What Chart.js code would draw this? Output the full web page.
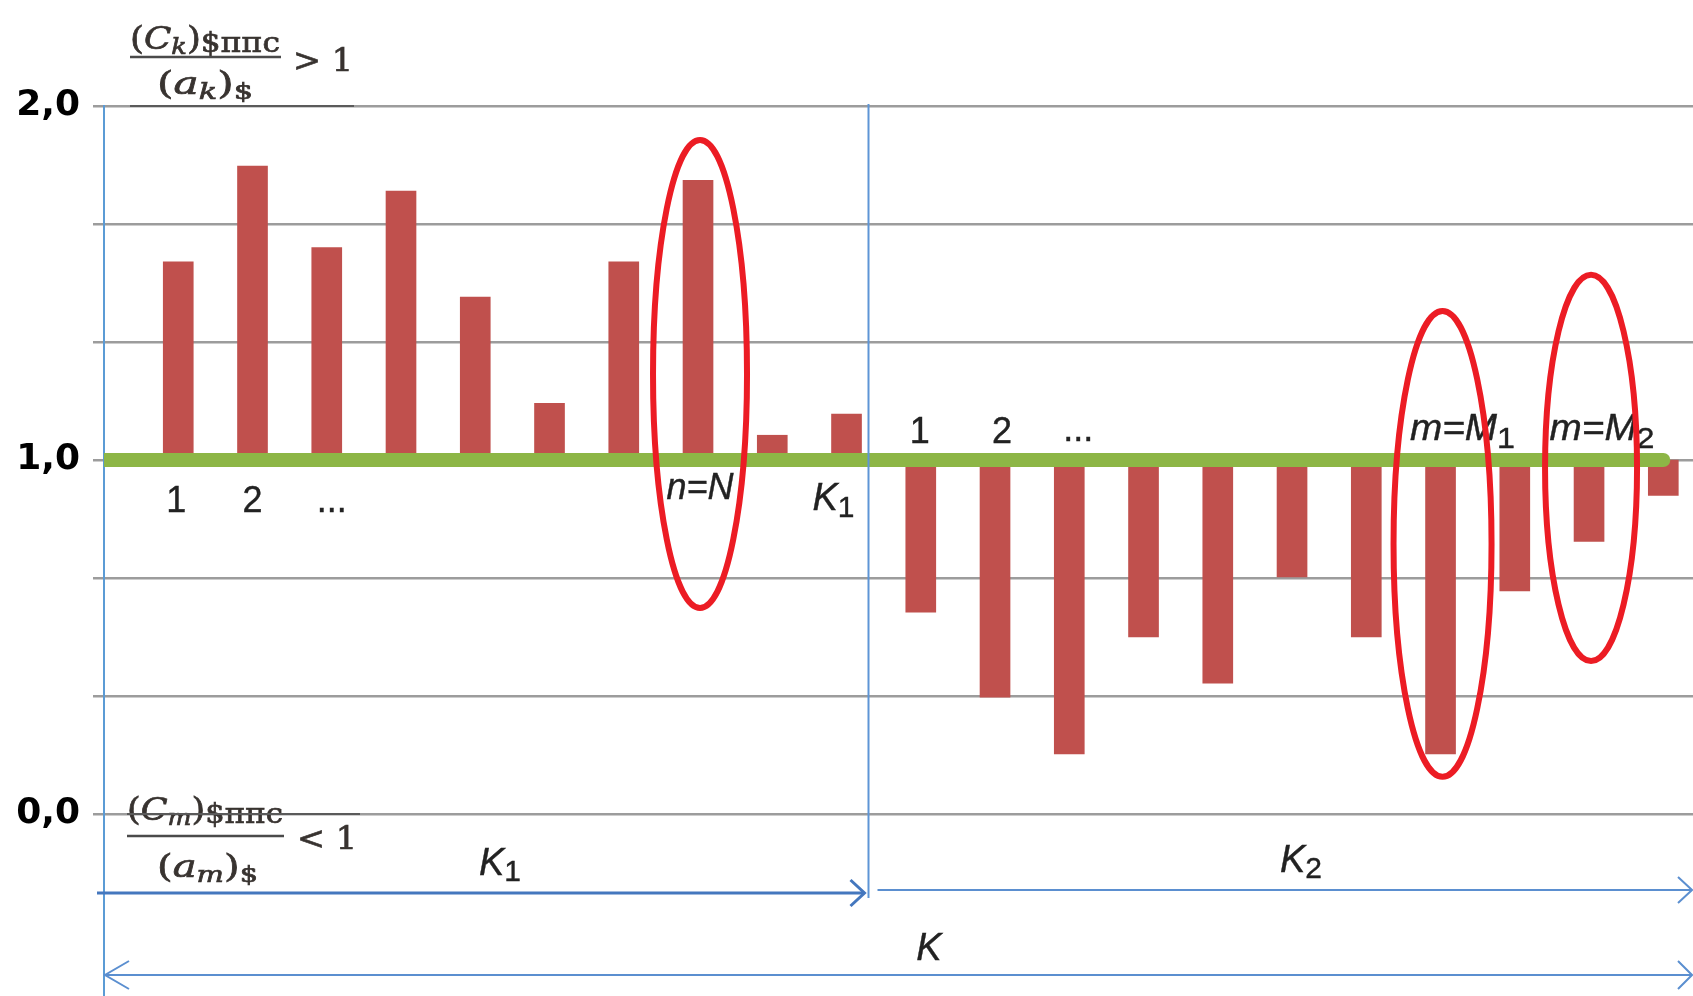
<!DOCTYPE html>
<html><head><meta charset="utf-8">
<script src="https://cdn.jsdelivr.net/npm/chart.js@4.4.1/dist/chart.umd.min.js"></script>
<style>html,body{margin:0;padding:0;background:#fff;overflow:hidden}canvas{display:block}</style>
</head><body>
<canvas id="c" width="1693" height="996" style="width:1693px;height:996px"></canvas>
<script>
// ---- data ----
const barIndex = [1,2,3,4,5,6,7,8,9,10,11,12,13,14,15,16,17,18,19,20,21];
const ratioValues = [1.56,1.83,1.60,1.76,1.46,1.16,1.56,1.79,1.07,1.13,
                     0.57,0.33,0.17,0.50,0.37,0.67,0.50,0.17,0.63,0.77,0.90];
const baseline = 1.0;
const baselineSpan = [0, 21];
const yGridValues = [0, 1/3, 2/3, 1, 4/3, 5/3, 2];
const yTickLabels = ['0,0', '', '', '1,0', '', '', '2,0'];
const highlightBars = [8, 18, 20];
const highlightLabels = ['n=N', 'm=M', 'm=M'];
const highlightSubs = ['', '1', '2'];
const groupSplit = 10.29;

// ---- helpers ----
const SANS = '"Liberation Sans", Arial, sans-serif';
const SERIF = '"DejaVu Serif", "Liberation Serif", serif';

function drawRuns(ctx, parts, x, baseY, opt) {
  opt = opt || {};
  const widths = parts.map(p => { ctx.font = p.font; return ctx.measureText(p.t).width; });
  const total = widths.reduce((a, b) => a + b, 0);
  const target = opt.width || total;
  const sx = target / total;
  let left = x;
  if (opt.align === 'center') left = x - target / 2;
  else if (opt.align === 'right') left = x - target;
  ctx.save();
  ctx.translate(left, baseY);
  ctx.scale(sx, 1);
  ctx.textAlign = 'left';
  ctx.textBaseline = 'alphabetic';
  let cx = 0;
  parts.forEach((p, i) => {
    ctx.font = p.font;
    ctx.fillText(p.t, cx, p.dy || 0);
    if (opt.stroke) { ctx.lineWidth = opt.stroke; ctx.strokeText(p.t, cx, p.dy || 0); }
    cx += widths[i];
  });
  ctx.restore();
}

function arrowHead(ctx, tipX, y, dir, len, spread) {
  ctx.beginPath();
  ctx.moveTo(tipX - dir * len, y - spread);
  ctx.lineTo(tipX, y);
  ctx.lineTo(tipX - dir * len, y + spread);
  ctx.stroke();
}

const annot = {
  id: 'annot',
  afterDatasetsDraw(chart) {
    const { ctx, scales: { x, y } } = chart;
    const px = v => x.getPixelForValue(v);
    const py = v => y.getPixelForValue(v);
    ctx.save();

    // group separator
    const sepX = Math.round(px(groupSplit)) + 0.5;
    ctx.strokeStyle = '#5E95D6';
    ctx.lineWidth = 2;
    ctx.beginPath(); ctx.moveTo(sepX, py(2) - 2); ctx.lineTo(sepX, 898); ctx.stroke();

    // fraction decorations
    const mathCol = '#383330';
    ctx.fillStyle = mathCol;
    ctx.strokeStyle = mathCol;
    const big = '32px ' + SERIF, bigIt = 'italic 32px ' + SERIF, sub = '23px ' + SERIF, subIt = 'italic 23px ' + SERIF, mid = '28px ' + SERIF;
    const ms = { stroke: 0.7 };
    // top fraction
    drawRuns(ctx, [{t:'(',font:big},{t:'C',font:bigIt},{t:'k',font:subIt,dy:5},{t:')',font:big},{t:'$ппс',font:mid,dy:3}], 130, 49, {width:150, stroke:0.7});
    drawRuns(ctx, [{t:'(',font:big},{t:'a',font:bigIt},{t:'k',font:subIt,dy:5},{t:')',font:big},{t:'$',font:sub,dy:5}], 157, 94, {width:96, stroke:0.7});
    drawRuns(ctx, [{t:'> 1',font:big}], 293, 71, {width:60, stroke:0.7});
    ctx.strokeStyle = '#4a4a4a'; ctx.lineWidth = 2.5;
    ctx.beginPath(); ctx.moveTo(130, 57); ctx.lineTo(281, 57); ctx.stroke();
    ctx.strokeStyle = '#5a5a5a'; ctx.lineWidth = 2;
    ctx.beginPath(); ctx.moveTo(130, py(2)); ctx.lineTo(354, py(2)); ctx.stroke();
    // bottom fraction
    ctx.strokeStyle = mathCol;
    drawRuns(ctx, [{t:'(',font:big},{t:'C',font:bigIt},{t:'m',font:subIt,dy:5},{t:')',font:big},{t:'$ппс',font:mid,dy:3}], 127, 820, {width:156, stroke:0.7});
    drawRuns(ctx, [{t:'(',font:big},{t:'a',font:bigIt},{t:'m',font:subIt,dy:5},{t:')',font:big},{t:'$',font:sub,dy:5}], 157, 877, {width:101, stroke:0.7});
    drawRuns(ctx, [{t:'< 1',font:big}], 297, 849, {width:60, stroke:0.7});
    ctx.strokeStyle = '#4a4a4a'; ctx.lineWidth = 2.5;
    ctx.beginPath(); ctx.moveTo(127, 836); ctx.lineTo(284, 836); ctx.stroke();
    ctx.strokeStyle = '#5a5a5a'; ctx.lineWidth = 2;
    ctx.beginPath(); ctx.moveTo(127, py(0)); ctx.lineTo(360, py(0)); ctx.stroke();

    // bar index labels
    const txtCol = '#222';
    ctx.fillStyle = txtCol;
    ctx.strokeStyle = txtCol;
    const num = '36px ' + SANS, it = 'italic 36px ' + SANS, itK = 'italic 38px ' + SANS, subN = '30px ' + SANS;
    const ts = { align: 'center', stroke: 0.4 };
    drawRuns(ctx, [{t:'1',font:num}], px(1) - 2, 512, ts);
    drawRuns(ctx, [{t:'2',font:num}], px(2), 512, ts);
    drawRuns(ctx, [{t:'...',font:num}], px(3) + 5, 512, ts);
    drawRuns(ctx, [{t:highlightLabels[0],font:it}], px(highlightBars[0]) + 2, 499, ts);
    drawRuns(ctx, [{t:'K',font:itK},{t:'1',font:subN,dy:7}], px(10) - 13, 510, ts);
    drawRuns(ctx, [{t:'1',font:num}], px(11) - 1, 443, ts);
    drawRuns(ctx, [{t:'2',font:num}], px(12) + 7, 443, ts);
    drawRuns(ctx, [{t:'...',font:num}], px(13) + 9, 441, ts);
    drawRuns(ctx, [{t:highlightLabels[1],font:it},{t:highlightSubs[1],font:subN,dy:8}], px(highlightBars[1]) + 22, 440, {align:'center', width:105, stroke:0.4});
    drawRuns(ctx, [{t:highlightLabels[2],font:it},{t:highlightSubs[2],font:subN,dy:8}], px(highlightBars[2]) + 13, 440, {align:'center', width:105, stroke:0.4});

    // range arrows
    ctx.lineCap = 'butt';
    ctx.strokeStyle = '#4477BE'; ctx.lineWidth = 3;
    ctx.beginPath(); ctx.moveTo(97, 893); ctx.lineTo(sepX - 4, 893); ctx.stroke();
    arrowHead(ctx, sepX - 4, 893, 1, 14, 13);
    ctx.strokeStyle = '#5B8FD0'; ctx.lineWidth = 2;
    ctx.beginPath(); ctx.moveTo(sepX + 9, 890); ctx.lineTo(1692, 890); ctx.stroke();
    arrowHead(ctx, 1692, 890, 1, 14, 13);
    ctx.beginPath(); ctx.moveTo(px(0), 975); ctx.lineTo(1692, 975); ctx.stroke();
    arrowHead(ctx, px(0) + 1, 975, -1, 24, 14);
    arrowHead(ctx, 1692, 975, 1, 14, 14);
    ctx.strokeStyle = txtCol;
    drawRuns(ctx, [{t:'K',font:itK},{t:'1',font:subN,dy:6}], 500, 875, ts);
    drawRuns(ctx, [{t:'K',font:itK},{t:'2',font:subN,dy:6}], 1301, 872, ts);
    drawRuns(ctx, [{t:'K',font:itK}], 929, 960, ts);

    // highlight ellipses
    const ell = [
      {bar: highlightBars[0], top: 1.904, bottom: 0.582, rx: 47, dx: 2},
      {bar: highlightBars[1], top: 1.421, bottom: 0.105, rx: 49, dx: 2},
      {bar: highlightBars[2], top: 1.523, bottom: 0.432, rx: 46, dx: 2}
    ];
    ctx.strokeStyle = '#EC1C24'; ctx.lineWidth = 6;
    ell.forEach(e => {
      const t = py(e.top), b = py(e.bottom);
      ctx.beginPath();
      ctx.ellipse(px(e.bar) + e.dx, (t + b) / 2, e.rx, (b - t) / 2, 0, 0, Math.PI * 2);
      ctx.stroke();
    });
    ctx.restore();
  }
};

new Chart(document.getElementById('c'), {
  type: 'bar',
  data: {
    datasets: [
      {
        type: 'line',
        data: baselineSpan.map(v => ({ x: v, y: baseline })),
        borderColor: '#8DB646',
        borderWidth: 14,
        borderCapStyle: 'round',
        pointRadius: 0,
        order: 0,
        clip: { left: 0, top: false, right: false, bottom: false }
      },
      {
        type: 'bar',
        data: barIndex.map((b, i) => ({ x: b, y: [baseline, ratioValues[i]] })),
        backgroundColor: '#C0504D',
        barThickness: 30,
        grouped: false,
        order: 1
      }
    ]
  },
  options: {
    responsive: false,
    animation: false,
    devicePixelRatio: 1,
    layout: { padding: { top: 106, left: 0, right: 0, bottom: 0 } },
    plugins: { legend: { display: false }, tooltip: { enabled: false } },
    scales: {
      x: { type: 'linear', display: false, min: 0, max: 21.4, offset: false },
      y: {
        type: 'linear', min: -0.514, max: 2,
        afterBuildTicks: s => { s.ticks = yGridValues.map(v => ({ value: v })); },
        afterFit: s => { s.width = 104; s.paddingTop = 0; s.paddingBottom = 0; },
        ticks: {
          callback: (v, i) => yTickLabels[i],
          font: { family: 'DejaVu Sans', size: 36, weight: 'bold' },
          color: '#000', padding: 13, autoSkip: false
        },
        grid: { color: '#9C9C9C', lineWidth: 2.5, tickLength: 11, drawTicks: true },
        border: { display: true, color: '#5B9BD5', width: 2 }
      }
    }
  },
  plugins: [annot]
});
</script>
</body></html>
